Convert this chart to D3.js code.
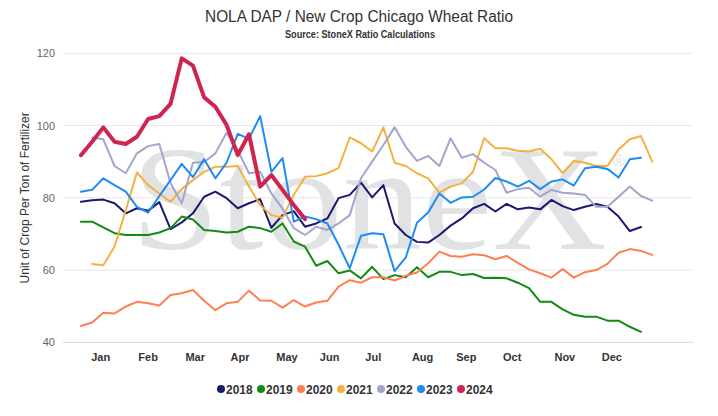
<!DOCTYPE html>
<html lang="en">
<head>
<meta charset="UTF-8">
<title>NOLA DAP / New Crop Chicago Wheat Ratio</title>
<script src="https://d3js.org/d3.v7.min.js"></script>
<style>
    body { margin: 0; background: #fff; font-family: "Liberation Sans", Arial, sans-serif; }
    svg { display: block; }
</style>
</head>
<body>
<div id="chart"></div>
<script>
    // month labels and where they sit (in week-index units)
    const months = ["Jan", "Feb", "Mar", "Apr", "May", "Jun", "Jul", "Aug", "Sep", "Oct", "Nov", "Dec"];
    const monthWeek = [1.76, 6.0, 10.2, 14.2, 18.4, 22.2, 26.1, 30.5, 34.4, 38.5, 43.2, 47.4];
    const yTicks = [40, 60, 80, 100, 120];

    const years = ["2018", "2019", "2020", "2021", "2022", "2023", "2024"];
    const colors = ["#191970", "#138a13", "#ff7f50", "#f5b041", "#a3a5cc", "#1e8cf0", "#d0234f"];

    // weekly ratio, one value per week (null = no data)
    const y2018 = [78.9, 79.3, 79.5, 78.5, 75.7, 77.1, 76.4, 78.8, 71.3, 73.2, 75.7, 80.3, 81.7, 79.9, 77.1, 78.5, 79.6, 71.7, 75.2, 76.3,
        72.0, 72.9, 74.3, 79.9, 80.8, 84.2, 80.1, 83.5, 72.9, 69.7, 67.8, 67.6, 69.7, 72.3, 74.3, 77.1, 78.3, 76.2, 78.3, 76.8,
        77.3, 76.8, 79.4, 77.7, 76.6, 77.5, 78.3, 77.5, 74.8, 70.8, 71.9, null];
    const y2019 = [73.4, 73.4, 71.8, 70.2, 69.7, 69.7, 69.7, 70.4, 71.6, 74.8, 74.0, 71.1, 70.8, 70.4, 70.6, 72.0, 71.6, 70.6, 72.9, 67.9,
        66.5, 61.2, 62.5, 59.1, 59.9, 57.7, 60.9, 57.5, 58.6, 58.0, 60.8, 58.0, 59.5, 59.5, 58.6, 58.9, 57.8, 57.9, 57.7, 56.5,
        55.0, 51.2, 51.2, 49.1, 47.6, 47.1, 47.1, 46.0, 46.0, 44.3, 42.9, null];
    const y2020 = [44.5, 45.5, 48.2, 48.0, 49.9, 51.2, 50.8, 50.2, 53.1, 53.6, 54.5, 51.5, 48.9, 50.8, 51.2, 54.3, 51.6, 51.5, 49.6, 51.7,
        49.9, 51.0, 51.5, 55.4, 57.2, 56.5, 58.0, 58.0, 57.1, 58.4, 59.3, 61.9, 65.1, 63.9, 63.7, 64.4, 64.1, 63.0, 63.9, 62.0,
        60.2, 59.1, 57.9, 60.3, 57.9, 59.4, 60.0, 61.7, 64.8, 65.8, 65.3, 64.2];
    const y2021 = [null, 61.7, 61.3, 66.5, 76.5, 87.0, 83.5, 81.2, 78.9, 82.4, 84.9, 87.2, 88.6, 88.6, 88.8, 83.1, 78.0, 75.2, 74.5, 80.8,
        85.8, 86.0, 86.8, 88.2, 96.7, 95.1, 92.8, 99.5, 89.7, 88.8, 86.8, 85.4, 81.4, 83.1, 84.0, 87.2, 96.5, 93.7, 93.7, 93.0,
        92.8, 93.6, 90.7, 86.8, 90.2, 89.7, 88.8, 88.8, 93.4, 96.2, 97.1, 90.0];
    const y2022 = [null, 96.7, 96.2, 88.8, 86.8, 92.3, 94.3, 94.9, 84.0, 78.5, 89.7, 89.9, 92.3, 98.0, 93.2, 86.8, 87.2, 81.2, 77.0, 71.6,
        69.7, 72.0, 71.1, 72.9, 75.2, 85.4, 90.0, 94.6, 99.5, 94.1, 90.2, 91.6, 88.8, 96.5, 91.1, 92.1, 89.7, 87.7, 81.4, 82.4,
        82.8, 80.3, 82.2, 81.4, 81.2, 80.8, 77.5, 77.5, 80.3, 83.1, 80.5, 79.2];
    const y2023 = [81.7, 82.2, 85.4, 83.5, 81.7, 77.5, 75.9, 80.5, 84.9, 89.4, 85.7, 90.7, 85.4, 89.7, 97.7, 96.3, 102.6, 87.2, 91.0, 73.4,
        74.8, 74.1, 72.9, 67.0, 60.5, 69.5, 70.2, 69.9, 59.7, 63.5, 73.1, 75.9, 81.2, 78.6, 80.1, 80.3, 82.3, 85.5, 84.5, 83.1,
        84.7, 82.4, 84.5, 85.1, 83.4, 88.2, 88.6, 88.0, 85.6, 90.7, 91.1, null];
    const y2024 = [91.8, 95.5, 99.5, 95.5, 94.9, 96.9, 101.8, 102.6, 106.0, 118.6, 116.6, 107.8, 105.2, 100.2, 91.8, 97.6, 83.1, 86.3, 82.2, 78.0,
        74.1];

    const seriesValues = [y2018, y2019, y2020, y2021, y2022, y2023, y2024];

    const width = 718, height = 416;
    const plot = { left: 63, right: 693, top: 53.3, bottom: 342.3 };

    const svg = d3.select("#chart").append("svg")
        .attr("width", width)
        .attr("height", height);

    const x = d3.scaleLinear().domain([-1.6, 54.64]).range([plot.left, plot.right]);
    const y = d3.scaleLinear().domain([40, 120]).range([plot.bottom, plot.top]);

    // watermark
    svg.append("text")
        .attr("x", 131).attr("y", 249)
        .attr("font-family", "'Liberation Serif', 'DejaVu Serif', serif")
        .attr("font-size", 148)
        .attr("fill", "#e1e2e4")
        .attr("textLength", 476)
        .attr("lengthAdjust", "spacingAndGlyphs")
        .text("StoneX");
    svg.append("text")
        .attr("x", 613).attr("y", 167)
        .attr("font-family", "'Liberation Sans', Arial, sans-serif")
        .attr("font-size", 16)
        .attr("fill", "#e1e2e4")
        .text("®");

    // gridlines
    svg.append("g")
        .selectAll("line")
        .data(yTicks)
        .enter().append("line")
        .attr("x1", plot.left).attr("x2", plot.right)
        .attr("y1", d => y(d)).attr("y2", d => y(d))
        .attr("stroke", d => d === 40 ? "#ccd6eb" : "#e6e6e6")
        .attr("stroke-width", 1);

    // y labels
    svg.append("g")
        .selectAll("text")
        .data(yTicks)
        .enter().append("text")
        .attr("x", 55)
        .attr("y", d => y(d) + 4)
        .attr("text-anchor", "end")
        .attr("font-size", 11)
        .attr("fill", "#666")
        .text(d => d);

    // x labels
    svg.append("g")
        .selectAll("text")
        .data(months)
        .enter().append("text")
        .attr("x", (d, i) => x(monthWeek[i]))
        .attr("y", 361)
        .attr("text-anchor", "middle")
        .attr("font-size", 11)
        .attr("font-weight", "bold")
        .attr("fill", "#333")
        .text(d => d);

    // y axis title
    svg.append("text")
        .attr("transform", "translate(29," + ((plot.top + plot.bottom) / 2) + ") rotate(-90)")
        .attr("text-anchor", "middle")
        .attr("font-size", 12)
        .attr("fill", "#333")
        .text("Unit of Crop Per Ton of Fertilizer");

    // title + subtitle
    svg.append("text")
        .attr("x", 359).attr("y", 22)
        .attr("text-anchor", "middle")
        .attr("font-size", 16)
        .attr("fill", "#333")
        .attr("textLength", 308)
        .attr("lengthAdjust", "spacingAndGlyphs")
        .text("NOLA DAP / New Crop Chicago Wheat Ratio");
    svg.append("text")
        .attr("x", 360).attr("y", 38)
        .attr("text-anchor", "middle")
        .attr("font-size", 10)
        .attr("font-weight", "bold")
        .attr("fill", "#333")
        .attr("textLength", 150)
        .attr("lengthAdjust", "spacingAndGlyphs")
        .text("Source: StoneX Ratio Calculations");

    // lines
    const line = d3.line()
        .defined(d => d != null)
        .x((d, i) => x(i))
        .y(d => y(d));

    svg.append("g")
        .selectAll("path")
        .data(seriesValues)
        .enter().append("path")
        .attr("d", d => line(d))
        .attr("fill", "none")
        .attr("stroke", (d, i) => colors[i])
        .attr("stroke-width", (d, i) => i === 6 ? 4 : 2)
        .attr("stroke-linejoin", "round")
        .attr("stroke-linecap", "round");

    // legend
    const legend = svg.append("g")
        .selectAll("g")
        .data(years)
        .enter().append("g")
        .attr("transform", (d, i) => "translate(" + (221 + i * 40) + ",389)");
    legend.append("circle")
        .attr("r", 4)
        .attr("fill", (d, i) => colors[i]);
    legend.append("text")
        .attr("x", 5)
        .attr("y", 4.5)
        .attr("font-size", 12)
        .attr("font-weight", "bold")
        .attr("fill", "#333")
        .text(d => d);
</script>
</body>
</html>
